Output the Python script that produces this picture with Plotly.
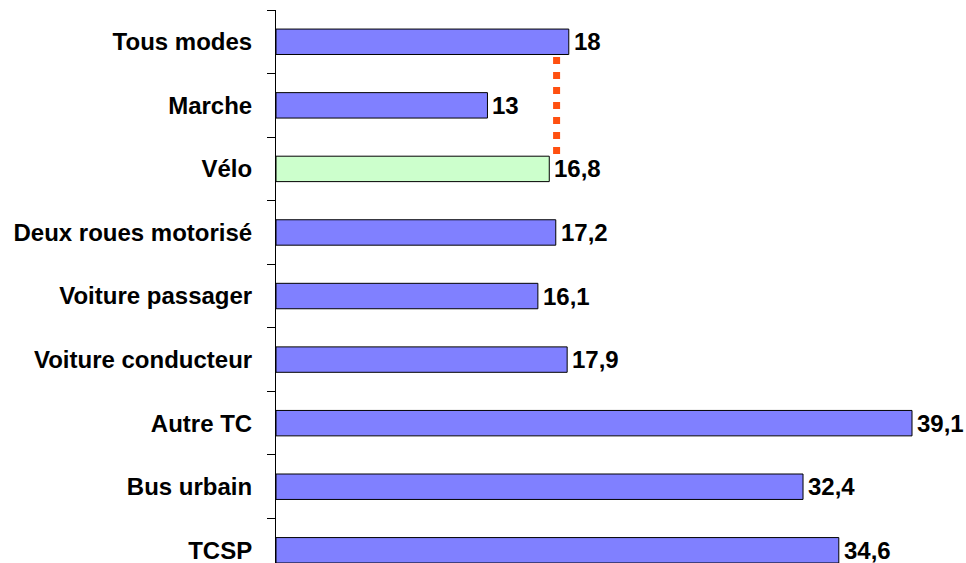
import plotly.graph_objects as go

categories = ["Tous modes", "Marche", "Vélo", "Deux roues motorisé", "Voiture passager",
              "Voiture conducteur", "Autre TC", "Bus urbain", "TCSP"]
values = [18, 13, 16.8, 17.2, 16.1, 17.9, 39.1, 32.4, 34.6]
highlight = "Vélo"

labels = [str(v).replace(".", ",") for v in values]
colors = ["#CCFFCC" if c == highlight else "#8080FF" for c in categories]

FONT = "Liberation Sans, Arial, sans-serif"

fig = go.Figure(go.Bar(
    x=values, y=categories, orientation="h",
    marker=dict(color=colors, line=dict(color="black", width=1)),
    width=0.4,
    hoverinfo="skip",
))

for c, v, t in zip(categories, values, labels):
    fig.add_annotation(x=v, y=c, text=t, showarrow=False, xanchor="left", yanchor="middle",
                       xshift=3, font=dict(family=FONT, size=24, color="black", weight="bold"))

# dotted reference line from the "Tous modes" bar down to the "Vélo" bar
fig.add_shape(type="line", xref="x", yref="y", x0=17.25, x1=17.25, y0=0.24, y1=1.82,
              line=dict(color="#FF5010", width=7, dash="7px,8px"))

fig.update_layout(
    width=966, height=563,
    margin=dict(l=276, r=0, t=10, b=0),
    paper_bgcolor="white", plot_bgcolor="white",
    showlegend=False,
    xaxis=dict(range=[0, 42.42], visible=False),
    yaxis=dict(type="category", categoryorder="array", categoryarray=categories,
               range=[8.2, -0.5], tickson="boundaries", ticks="outside", ticklen=8,
               tickcolor="black", tickwidth=1, showline=True, linecolor="black", linewidth=1,
               showgrid=False, zeroline=False, ticklabelstandoff=18,
               tickfont=dict(family=FONT, size=24, color="black", weight="bold")),
)

fig.write_html("out.html", config={"displayModeBar": False},
               post_script="document.body.style.margin='0';document.body.style.overflow='hidden';")
